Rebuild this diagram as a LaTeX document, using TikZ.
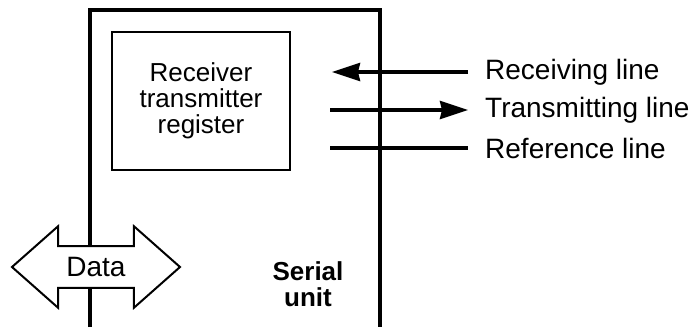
\documentclass[tikz,border=0pt]{standalone}
\usepackage{fontspec}
\setmainfont{Liberation Sans}
\usetikzlibrary{positioning,arrows.meta,shapes.arrows}

\begin{document}
\begin{tikzpicture}[
  x=1pt, y=-1pt,
  font=\fontsize{26}{26}\selectfont,
  wall/.style = {line width=3.5pt},
  reg/.style  = {draw, line width=2pt, align=center,
                 minimum width=178pt, minimum height=138pt},
  sig/.style  = {line width=3.5pt},
  lbl/.style  = {anchor=west, inner xsep=17pt, inner ysep=0pt,
                 font=\fontsize{28}{28}\selectfont},
  bus/.style  = {double arrow, draw, line width=2pt, fill=white,
                 minimum height=168pt, double arrow head extend=20pt,
                 double arrow tip angle=83, inner xsep=2pt, inner ysep=10pt,
                 font=\fontsize{28}{28}\selectfont},
  tip/.style  = {-{Stealth[length=28pt, width=18pt, inset=2pt]}}
]
\useasboundingbox (0,0) rectangle (696,327);

% ------------------------------------------------------------ the unit --
\coordinate (sw) at (90,327);
\coordinate (ne) at (380,10);
\coordinate (se) at (380,327);
\draw[wall] (sw) |- (ne) -- (se);

\node[reg] (rtr) at (201,101) {Receiver\\transmitter\\register};
\node[font=\fontsize{26}{26}\selectfont\bfseries, align=center]
      (ser) at (308,284) {Serial\\unit};

% ---------------------------------------------------------- data bus --
\node[bus] (data) at (96,267) {Data};

% ------------------------------------------------------- serial lines --
\node[lbl] (rcv) at (468,72)  {Receiving line};
\node[lbl] (trn) at (468,110) {Transmitting line};
\node[lbl] (ref) at (468,148) {Reference line};

\coordinate (rx) at (332,72);
\coordinate (tx) at (330,110);
\coordinate (fx) at (330,148);

\draw[sig, tip] (rcv.west) -- (rx);
\draw[sig, tip] (tx) -- (trn.west);
\draw[sig]      (fx) -- (ref.west);

\end{tikzpicture}
\end{document}
